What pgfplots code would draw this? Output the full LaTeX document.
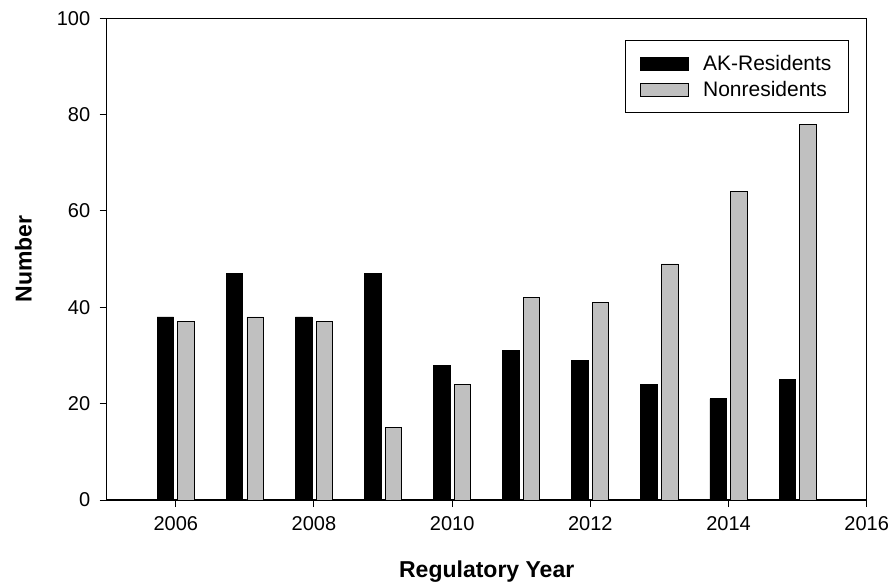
\documentclass[border=0pt]{standalone}
\usepackage{pgfplots}
\pgfplotsset{compat=1.18}
\usepackage{fontspec}
\setmainfont{Liberation Sans}
\definecolor{barGray}{RGB}{192,192,192}
\begin{document}
\begin{tikzpicture}
\useasboundingbox (0,0) rectangle (892pt,582pt);
\begin{axis}[
  at={(106.7pt,82pt)}, anchor=south west,
  width=760pt, height=481.7pt, scale only axis,
  xmin=2005, xmax=2016, ymin=0, ymax=100,
  xtick={2006,2008,...,2016}, ytick={0,20,...,100},
  tick pos=left, tick align=outside,
  major tick length=7pt,
  every tick/.style={black, line width=1pt},
  axis line style={line width=1.2pt},
  /pgf/number format/1000 sep={},
  /pgf/number format/assume math mode=true,
  ticklabel style={font=\fontsize{20}{24}\selectfont},
  yticklabel style={xshift=-6pt},
  xticklabel style={yshift=-6pt},
  xlabel={\bfseries Regulatory Year},
  ylabel={\bfseries Number},
  label style={font=\fontsize{23}{27}\selectfont},
  xlabel style={at={(axis description cs:0.5,-0.16)}, anchor=base},
  ylabel style={at={(axis description cs:-0.0987,0.5)}, anchor=base},
  ybar, bar width=16.5pt,
  legend style={at={(0.9767,0.955)}, anchor=north east, draw=black, line width=1pt,
    font=\fontsize{21}{25}\selectfont, inner xsep=15pt, inner ysep=13pt, row sep=5pt,
    /tikz/every odd column/.append style={column sep=12pt}},
  legend cell align=left,
  legend image code/.code={\draw[#1, line width=0.8pt] (0pt,-6.5pt) rectangle (48pt,6.5pt);},
]
\addplot[fill=black, draw=black, line width=0.8pt, bar shift=-10.3pt] coordinates {
 (2006,38) (2007,47) (2008,38) (2009,47) (2010,28) (2011,31) (2012,29) (2013,24) (2014,21) (2015,25)};
\addplot[fill=barGray, draw=black, line width=0.8pt, bar shift=10.3pt] coordinates {
 (2006,37) (2007,38) (2008,37) (2009,15) (2010,24) (2011,42) (2012,41) (2013,49) (2014,64) (2015,78)};
\legend{AK-Residents, Nonresidents}
\end{axis}
\end{tikzpicture}
\end{document}
